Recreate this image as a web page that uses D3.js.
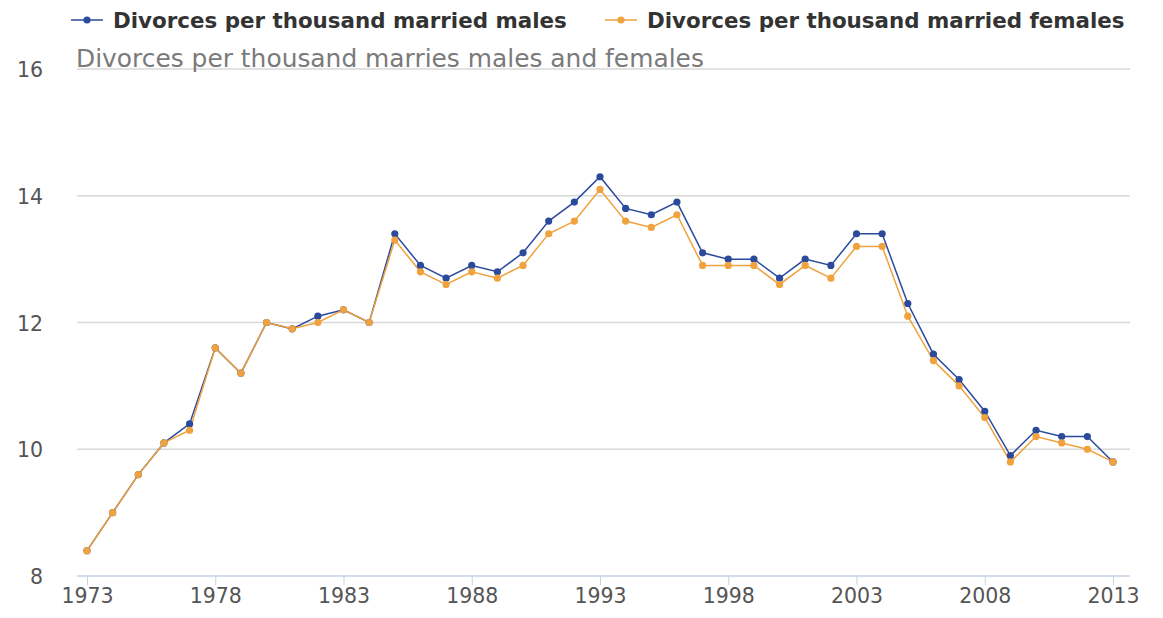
<!DOCTYPE html>
<html><head><meta charset="utf-8">
<script src="https://cdn.jsdelivr.net/npm/d3@7"></script>
<style>body{margin:0;background:#fff;font-family:"DejaVu Sans",sans-serif;}</style>
</head><body><svg id="c" width="1163" height="618"></svg>
<script>
const years = d3.range(1973, 2014);
const males = [8.4,9.0,9.6,10.1,10.4,11.6,11.2,12.0,11.9,12.1,12.2,12.0,13.4,12.9,12.7,12.9,12.8,13.1,13.6,13.9,14.3,13.8,13.7,13.9,13.1,13.0,13.0,12.7,13.0,12.9,13.4,13.4,12.3,11.5,11.1,10.6,9.9,10.3,10.2,10.2,9.8];
const females = [8.4,9.0,9.6,10.1,10.3,11.6,11.2,12.0,11.9,12.0,12.2,12.0,13.3,12.8,12.6,12.8,12.7,12.9,13.4,13.6,14.1,13.6,13.5,13.7,12.9,12.9,12.9,12.6,12.9,12.7,13.2,13.2,12.1,11.4,11.0,10.5,9.8,10.2,10.1,10.0,9.8];
const yTicks = [8,10,12,14,16];
const xTicks = [1973,1978,1983,1988,1993,1998,2003,2008,2013];
const seriesNames = ["Divorces per thousand married males","Divorces per thousand married females"];
const colors = ["#2b4a9c","#f0a23e"];
const subtitle = "Divorces per thousand marries males and females";

const svg = d3.select("#c");
const x = d3.scaleLinear().domain([1973,2013]).range([87,1113]);
const y = d3.scaleLinear().domain([8,16]).range([576,69]);

// gridlines
svg.append("g").selectAll("line").data(yTicks.filter(d=>d>8)).join("line")
  .attr("x1",77).attr("x2",1130).attr("y1",d=>y(d)).attr("y2",d=>y(d))
  .attr("stroke","#d8d8d8").attr("stroke-width",1.5);

// y labels
svg.append("g").selectAll("text").data(yTicks).join("text")
  .attr("x",43).attr("y",d=>y(d)+8).attr("text-anchor","end")
  .attr("font-size",20.5).attr("fill","#555").text(d=>d);

// x axis
const xa = svg.append("g").attr("transform","translate(0,576)")
  .call(d3.axisBottom(x).tickValues(xTicks).tickFormat(d3.format("d")).tickSize(9).tickPadding(3));
xa.select(".domain").attr("stroke","#c5d3e3").attr("stroke-width",1.5).attr("d","M77,0H1130");
xa.selectAll(".tick line").attr("stroke","#c5d3e3");
xa.selectAll(".tick text").attr("font-size",20.5).attr("fill","#555").attr("font-family","DejaVu Sans");

// subtitle
svg.append("text").attr("x",76).attr("y",67).attr("font-size",24.9).attr("fill","#7a7a7a").text(subtitle);

const line = d3.line().x((d,i)=>x(years[i])).y(d=>y(d));
const order = [[males,0],[females,1]];
order.forEach(([s,ci])=>{
  svg.append("path").attr("d",line(s)).attr("fill","none").attr("stroke",colors[ci]).attr("stroke-width",1.5);
});
order.forEach(([s,ci])=>{
  svg.append("g").selectAll("circle").data(s).join("circle")
    .attr("cx",(d,i)=>x(years[i])).attr("cy",d=>y(d)).attr("r",3.6).attr("fill",colors[ci]);
});

// legend
const lg = [{x:71,tx:113},{x:605,tx:647}];
seriesNames.forEach((n,i)=>{
  const g = svg.append("g");
  g.append("line").attr("x1",lg[i].x).attr("x2",lg[i].x+32).attr("y1",20).attr("y2",20).attr("stroke",colors[i]).attr("stroke-width",1.5);
  g.append("circle").attr("cx",lg[i].x+16).attr("cy",20).attr("r",3.6).attr("fill",colors[i]);
  g.append("text").attr("x",lg[i].tx).attr("y",28).attr("font-size",21.4).attr("font-weight","bold").attr("fill","#333").text(n);
});
</script></body></html>
